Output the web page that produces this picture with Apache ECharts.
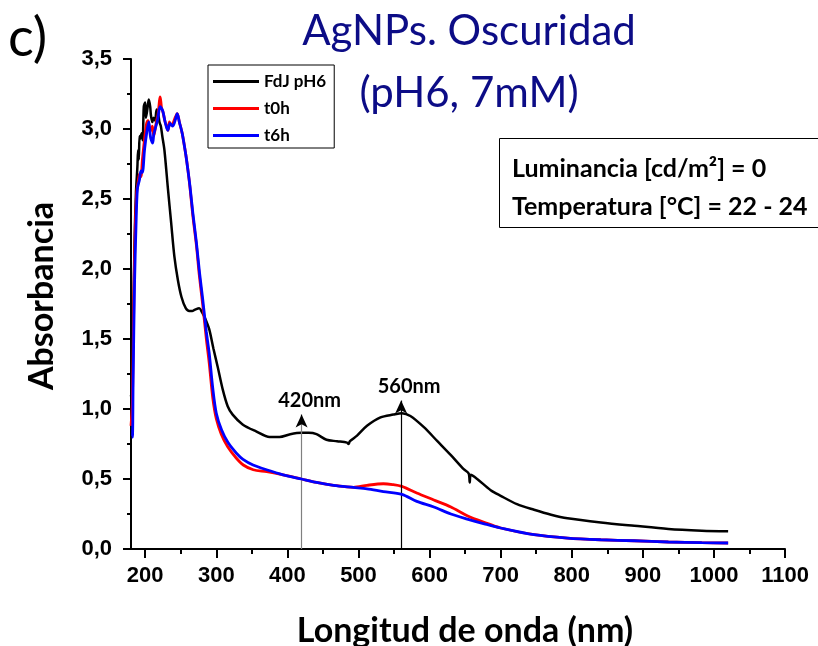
<!DOCTYPE html>
<html>
<head>
<meta charset="utf-8">
<title>AgNPs. Oscuridad</title>
<script src="https://cdn.jsdelivr.net/npm/echarts@6/dist/echarts.min.js"></script>
<style>
  html, body { margin: 0; padding: 0; background: #fff; }
  #chart { width: 818px; height: 646px; }
</style>
</head>
<body>
<div id="chart"></div>
<script>
// UV-Vis absorbance spectra (wavelength in nm, absorbance)
const fdjWavelength = [180, 181, 183, 185, 187, 189, 190, 191, 192, 193, 195, 196.5, 198, 200, 201, 203, 205, 207, 208, 210, 212, 214, 216, 218, 220, 222, 224, 227, 232, 236.5, 241, 246, 251, 257, 262, 266, 270, 276, 280, 284, 290, 296, 302, 309, 316, 323, 337, 356, 375, 389, 404, 420, 430, 441, 455, 470, 484, 486, 488, 498, 512, 531, 549, 561, 573, 592, 611, 630, 648, 655, 656.5, 658, 667, 686, 700, 723, 747, 771, 794, 841, 888, 936, 983, 1020];
const fdjAbs = [1.10, 1.05, 1.60, 2.20, 2.55, 2.73, 2.85, 2.78, 2.95, 2.93, 2.97, 2.92, 3.16, 3.19, 3.08, 3.14, 3.21, 3.16, 3.10, 3.05, 3.08, 3.06, 3.14, 3.12, 3.05, 3.02, 2.95, 2.85, 2.57, 2.33, 2.09, 1.92, 1.80, 1.72, 1.70, 1.70, 1.71, 1.72, 1.69, 1.65, 1.57, 1.43, 1.30, 1.14, 1.02, 0.96, 0.89, 0.84, 0.80, 0.80, 0.82, 0.83, 0.83, 0.82, 0.78, 0.77, 0.76, 0.75, 0.77, 0.81, 0.88, 0.94, 0.96, 0.97, 0.95, 0.87, 0.77, 0.67, 0.57, 0.54, 0.475, 0.53, 0.50, 0.42, 0.38, 0.32, 0.28, 0.245, 0.22, 0.19, 0.166, 0.143, 0.131, 0.126];

const t0Wavelength = [180, 182, 184, 186, 188, 190, 192, 194, 196, 198, 200, 202, 204, 206, 208, 210, 212, 214, 216, 218, 220, 221, 223, 225, 228, 230, 232, 234, 236, 239, 242, 245, 248, 252, 257, 260, 263, 267, 272, 276, 281, 286, 290, 295, 300, 307, 316, 328, 338, 352, 371, 394, 420, 441, 465, 493, 512, 535, 548, 561, 582, 606, 630, 653, 677, 700, 747, 794, 841, 888, 936, 983, 1020];
const t0Abs = [0.88, 1.05, 1.80, 2.30, 2.55, 2.62, 2.68, 2.66, 2.78, 2.88, 2.97, 3.04, 3.06, 3.00, 2.99, 3.02, 2.95, 3.00, 3.06, 3.10, 3.20, 3.23, 3.15, 3.12, 3.05, 3.02, 2.99, 3.05, 3.03, 3.04, 3.08, 3.11, 3.05, 2.97, 2.82, 2.71, 2.58, 2.38, 2.17, 1.96, 1.74, 1.50, 1.33, 1.08, 0.93, 0.82, 0.73, 0.65, 0.60, 0.566, 0.552, 0.53, 0.50, 0.476, 0.455, 0.44, 0.455, 0.466, 0.46, 0.447, 0.40, 0.35, 0.30, 0.238, 0.19, 0.15, 0.102, 0.078, 0.066, 0.059, 0.05, 0.045, 0.043];

const t6Wavelength = [181, 182, 183, 185, 187, 189, 192, 194, 196, 199, 202, 205, 207, 208, 210.5, 212, 214, 217.6, 221, 224.6, 228, 231.7, 235, 238.8, 242.6, 245, 248, 252, 257, 260, 263, 267, 272, 276.5, 281, 286, 290, 295, 300, 307.5, 316.5, 328, 337.6, 351.7, 370.6, 394, 420, 441, 465, 493, 512, 535, 561, 582, 606, 630, 653, 677, 700, 747, 794, 841, 888, 936, 983, 1020];
const t6Abs = [0.80, 0.80, 1.20, 1.90, 2.30, 2.57, 2.64, 2.70, 2.69, 2.85, 2.97, 3.05, 2.96, 2.93, 2.90, 2.96, 3.00, 3.07, 3.16, 3.13, 3.05, 2.99, 3.04, 3.02, 3.07, 3.11, 3.05, 2.97, 2.82, 2.71, 2.59, 2.40, 2.19, 1.97, 1.78, 1.55, 1.40, 1.15, 0.97, 0.85, 0.76, 0.686, 0.64, 0.60, 0.566, 0.53, 0.50, 0.476, 0.455, 0.44, 0.43, 0.41, 0.39, 0.34, 0.30, 0.25, 0.214, 0.18, 0.15, 0.102, 0.078, 0.066, 0.059, 0.05, 0.045, 0.043];

// axis ticks
const xMajorTicks = [200, 300, 400, 500, 600, 700, 800, 900, 1000, 1100];
const xMinorTicks = [250, 350, 450, 550, 650, 750, 850, 950, 1050];

// band-position markers: [wavelength, arrow top]
const markerWavelengths = [420, 560];
const markerTops = [0.96, 1.06];

const pairs = (xs, ys) => xs.map((x, i) => [x, ys[i]]);

const boldArial = { fontFamily: 'Liberation Sans', fontWeight: 'bold', color: '#000' };
const labelFont = { fontFamily: 'Lato', fontWeight: 'bold', color: '#000' };

function markerLines() {
  const out = [];
  markerWavelengths.forEach((w, i) => {
    // shaft
    out.push([
      { coord: [w, 0], symbol: 'none', lineStyle: { color: i === 0 ? '#808080' : '#000', width: 1.2, type: 'solid' } },
      { coord: [w, markerTops[i] - 0.04], symbol: 'none' }
    ]);
    // arrow head with label
    out.push([
      { coord: [w, markerTops[i] - 0.06], symbol: 'none', lineStyle: { color: '#000', width: 1.2, type: 'solid' },
        label: { show: true, position: 'end', formatter: w + 'nm', distance: 4, padding: [0, 0, 0, 16],
                 fontSize: 20, ...labelFont } },
      { coord: [w, markerTops[i]], symbol: 'arrow' }
    ]);
  });
  return out;
}

const chart = echarts.init(document.getElementById('chart'), null, { renderer: 'canvas' });

chart.setOption({
  animation: false,
  backgroundColor: '#fff',
  title: {
    text: 'AgNPs. Oscuridad\n(pH6, 7mM)',
    left: 464,
    top: -5,
    textAlign: 'center',
    textStyle: { fontFamily: 'Lato', fontWeight: 'normal', fontSize: 42, lineHeight: 62, color: '#0c0c86' }
  },
  legend: {
    orient: 'vertical',
    left: 208,
    top: 65,
    padding: [8, 8, 4, 5],
    itemGap: 10,
    itemWidth: 46,
    itemHeight: 3,
    icon: 'rect',
    borderColor: '#000',
    borderWidth: 1,
    textStyle: { fontSize: 17, ...labelFont },
    data: ['FdJ pH6', 't0h', 't6h']
  },
  grid: { left: 131, right: 33, top: 59, bottom: 97, containLabel: false, outerBoundsMode: 'none' },
  xAxis: [
    {
      type: 'value',
      min: 180,
      max: 1100,
      position: 'bottom',
      name: 'Longitud de onda (nm)',
      nameLocation: 'middle',
      nameGap: 65,
      nameTextStyle: { fontSize: 34, padding: [0, 0, 0, 14], ...labelFont },
      axisLine: { show: true, onZero: false, lineStyle: { color: '#000', width: 2 } },
      axisTick: { show: true, customValues: xMajorTicks, length: 9, lineStyle: { color: '#000', width: 2 } },
      axisLabel: { customValues: xMajorTicks, margin: 16, fontSize: 22, ...boldArial, formatter: v => String(v) },
      splitLine: { show: false }
    },
    {
      type: 'value',
      min: 180,
      max: 1100,
      position: 'bottom',
      axisLine: { show: false },
      axisTick: { show: true, customValues: xMinorTicks, length: 5, lineStyle: { color: '#000', width: 2 } },
      axisLabel: { show: false },
      splitLine: { show: false }
    }
  ],
  yAxis: {
    type: 'value',
    min: 0,
    max: 3.5,
    interval: 0.5,
    name: 'Absorbancia',
    nameLocation: 'middle',
    nameGap: 72,
    nameTextStyle: { fontSize: 34, padding: [0, 0, 0, 16], ...labelFont },
    axisLine: { show: true, lineStyle: { color: '#000', width: 2 } },
    axisTick: { show: true, length: 8, lineStyle: { color: '#000', width: 2 } },
    minorTick: { show: true, splitNumber: 2, length: 4, lineStyle: { color: '#000', width: 2 } },
    axisLabel: { margin: 19, fontSize: 22, ...boldArial, formatter: v => v.toFixed(1).replace('.', ',') },
    splitLine: { show: false }
  },
  series: [
    {
      name: 'FdJ pH6', type: 'line', data: pairs(fdjWavelength, fdjAbs),
      symbol: 'none', smooth: 0.3, lineStyle: { color: '#000', width: 2.5 }, itemStyle: { color: '#000' }, z: 3
    },
    {
      name: 't0h', type: 'line', data: pairs(t0Wavelength, t0Abs),
      symbol: 'none', smooth: 0.3, lineStyle: { color: '#ff0000', width: 2.8 }, itemStyle: { color: '#ff0000' }, z: 4
    },
    {
      name: 't6h', type: 'line', data: pairs(t6Wavelength, t6Abs),
      symbol: 'none', smooth: 0.3, lineStyle: { color: '#0000ff', width: 2.8 }, itemStyle: { color: '#0000ff' }, z: 5
    },
    {
      name: 'markers', type: 'line', data: [], z: 2,
      markLine: { silent: true, animation: false, symbolSize: [9, 13], label: { show: false }, data: markerLines() }
    }
  ],
  graphic: [
    { type: 'text', left: 8, top: 12, style: { text: 'c)', font: '54px Lato', fill: '#000' } },
    { type: 'rect', shape: { x: 499.5, y: 138.5, width: 330, height: 89 }, style: { fill: '#fff', stroke: '#000', lineWidth: 1 }, z: 1 },
    { type: 'text', x: 512, y: 169, style: { text: 'Luminancia [cd/m²] = 0', font: 'bold 25px Lato', fill: '#000', verticalAlign: 'middle' }, z: 2 },
    { type: 'text', x: 512, y: 207, style: { text: 'Temperatura [°C] = 22 - 24', font: 'bold 25px Lato', fill: '#000', verticalAlign: 'middle' }, z: 2 }
  ]
});
</script>
</body>
</html>
